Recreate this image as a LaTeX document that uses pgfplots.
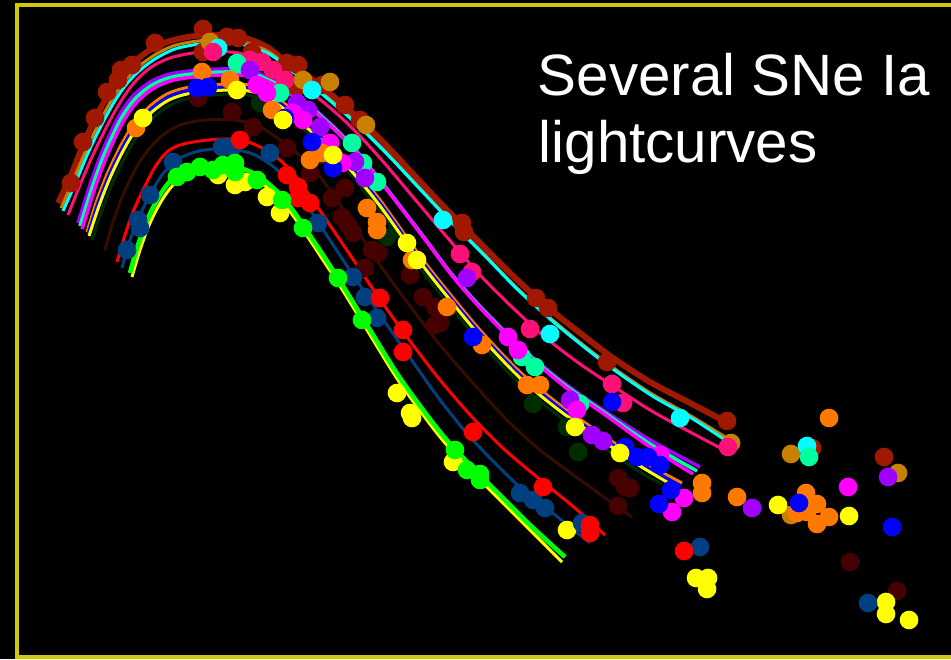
\documentclass[border=0pt]{standalone}
\usepackage{pgfplots}
\pgfplotsset{compat=1.18}
\usepackage{fontspec}
\setmainfont{Liberation Sans}

\definecolor{frameyellow}{RGB}{210,200,10}
\definecolor{cDarkRed}{RGB}{160,24,0}
\definecolor{cGold}{RGB}{200,128,0}
\definecolor{cCyan}{RGB}{0,255,255}
\definecolor{cPink}{RGB}{255,16,120}
\definecolor{cPurple}{RGB}{160,0,255}
\definecolor{cAqua}{RGB}{0,255,160}
\definecolor{cMagenta}{RGB}{255,0,255}
\definecolor{cOrange}{RGB}{255,120,0}
\definecolor{cBlue}{RGB}{0,0,255}
\definecolor{cYellow}{RGB}{255,255,0}
\definecolor{cDkGreen}{RGB}{0,45,0}
\definecolor{cMaroon}{RGB}{70,0,0}
\definecolor{cDim}{RGB}{55,12,0}
\definecolor{cRed}{RGB}{255,0,0}
\definecolor{cNavy}{RGB}{0,64,128}
\definecolor{cGreen}{RGB}{0,255,0}

\pgfplotsset{
  fit/.style={smooth, no marks, line width=0.85pt},
  obs/.style={only marks, mark=*, mark size=2.45pt, mark options={draw=none}},
}

\begin{document}
\begin{tikzpicture}
\fill[black] (0,0) rectangle (9.51cm,6.59cm);
\useasboundingbox (0,0) rectangle (9.51cm,6.59cm);
\begin{axis}[at={(0,0)}, anchor=south west, scale only axis,
  width=9.51cm, height=6.59cm,
  xmin=0, xmax=951, ymin=0, ymax=659, y dir=reverse,
  hide axis, clip=true]

% plot frame
\addplot[frameyellow, line width=0.9pt, no marks] coordinates {(965,5) (17,5) (17,657) (965,657)};

% ---- template fits ----
\addplot[fit, cDarkRed, line width=1.7pt] coordinates {
(58,203) (70,178) (83,145) (95,119) (108,95) (120,77) (133,63) (150,50) (170,41) (195,36) (222,35) (245,38) (267,47) (285,61) (313,80) (347,108) (380,139) (413,174) (446,209) (480,243) (513,276) (546,306) (580,333) (613,358) (650,382) (690,403) (728,423)};
\addplot[fit, cGold] coordinates {
(61,208) (73,181) (86,150) (98,125) (111,101) (123,83) (136,69) (153,56) (173,46) (198,41) (224,40) (247,43) (269,52) (287,66) (315,87) (349,116) (382,148) (415,183) (448,218) (482,252) (515,286) (548,316) (582,344) (615,369) (652,394) (691,416) (730,440)};
\addplot[fit, cCyan] coordinates {
(63,211) (75,184) (88,153) (100,128) (113,104) (125,86) (138,72) (155,59) (175,49) (200,44) (226,43) (249,46) (271,55) (289,69) (317,90) (351,119) (384,151) (417,186) (450,221) (484,255) (517,289) (550,319) (584,347) (617,372) (654,397) (693,419) (728,442)};
\addplot[fit, cPink] coordinates {
(68,215) (80,185) (92,157) (105,130) (118,106) (133,84) (150,68) (170,58) (200,52) (230,52) (255,57) (280,72) (313,94) (347,123) (380,158) (413,197) (446,236) (480,275) (513,308) (546,338) (580,364) (613,386) (650,410) (690,432) (728,452)};
\addplot[fit, cPurple, line width=1pt] coordinates {
(78,223) (90,185) (100,157) (110,134) (120,114) (133,96) (150,82) (170,74) (200,70) (230,69) (252,71) (280,84) (313,108) (347,140) (380,180) (420,232) (450,272) (480,306) (520,346) (560,380) (600,408) (650,440) (700,467)};
\addplot[fit, cAqua, line width=1pt] coordinates {
(80,226) (92,188) (102,160) (112,137) (122,117) (135,99) (152,85) (172,77) (202,73) (232,72) (254,74) (282,87) (315,111) (349,143) (382,183) (422,235) (452,275) (482,309) (522,349) (562,383) (602,411) (650,444) (697,471)};
\addplot[fit, cMagenta, line width=1pt] coordinates {
(82,229) (94,191) (104,163) (114,140) (124,120) (137,102) (154,88) (174,80) (204,76) (234,75) (256,77) (284,90) (317,114) (351,146) (384,186) (424,238) (454,278) (484,312) (524,352) (564,386) (604,414) (650,447) (693,474)};
\addplot[fit, cDkGreen] coordinates {
(92,240) (102,210) (113,182) (125,157) (138,135) (155,116) (172,104) (190,98) (212,95) (240,94) (260,98) (280,110) (313,137) (347,170) (380,212) (420,268) (450,306) (480,342) (520,384) (560,417) (600,445) (640,472) (662,484)};
\addplot[fit, cOrange] coordinates {
(87,232) (97,200) (108,172) (120,147) (133,125) (150,106) (167,94) (185,88) (210,85) (240,84) (260,88) (280,100) (313,127) (347,160) (380,200) (420,256) (450,294) (480,330) (520,372) (560,405) (600,433) (640,460) (682,483)};
\addplot[fit, cBlue] coordinates {
(88,234) (98,203) (109,175) (121,150) (134,128) (151,109) (168,97) (186,91) (210,88) (240,87) (260,91) (280,103) (313,130) (347,163) (380,203) (420,259) (450,297) (480,333) (520,375) (560,408) (600,436) (640,463) (681,486)};
\addplot[fit, cYellow] coordinates {
(89,236) (99,206) (110,178) (122,153) (135,131) (152,112) (169,100) (187,94) (210,91) (240,90) (260,94) (280,106) (313,133) (347,166) (380,206) (420,262) (450,300) (480,336) (520,378) (560,411) (600,439) (640,466) (679,489)};
\addplot[fit, cDim] coordinates {
(105,250) (113,222) (123,195) (135,170) (148,150) (163,135) (180,125) (205,120) (235,120) (258,126) (280,140) (313,168) (347,215) (380,265) (410,306) (440,345) (473,383) (505,418) (540,450) (590,487) (632,517)};
\addplot[fit, cRed] coordinates {
(117,262) (125,235) (133,212) (143,190) (155,167) (167,152) (180,145) (200,141) (225,139) (245,141) (262,148) (280,160) (300,182) (340,240) (377,295) (407,337) (440,380) (473,418) (505,450) (543,482) (575,508) (605,535)};
\addplot[fit, cNavy] coordinates {
(122,268) (130,240) (140,215) (150,195) (162,175) (177,160) (195,152) (215,149) (237,150) (255,155) (275,168) (295,188) (318,222) (353,275) (385,322) (413,362) (440,400) (470,437) (500,468) (523,490) (545,507) (570,527) (590,543)};
\addplot[fit, cYellow] coordinates {
(132,277) (140,250) (150,223) (162,200) (175,183) (190,175) (202,172) (220,171) (237,172) (255,179) (270,190) (285,205) (303,230) (338,283) (367,330) (400,383) (440,437) (470,470) (500,500) (530,530) (562,562)};
\addplot[fit, cGreen, line width=1.3pt] coordinates {
(130,273) (138,245) (148,218) (160,195) (173,178) (188,170) (200,167) (220,166) (237,167) (255,174) (270,185) (285,200) (303,225) (338,278) (367,325) (400,378) (440,432) (470,465) (500,495) (530,525) (565,557)};

% ---- photometry ----
\addplot[obs, cMaroon] coordinates {
(198,98) (232,112) (253,127) (287,148) (310,173) (332,198) (345,188) (342,217) (348,225) (353,233) (372,250) (378,253) (365,268) (410,275) (423,297) (435,307) (435,325) (440,323) (618,478) (630,488) (625,487) (618,506) (850,562) (897,591)};
\addplot[obs, cDkGreen] coordinates {
(260,103) (323,155) (387,237) (533,404) (567,427) (578,452)};
\addplot[obs, cDarkRed] coordinates {
(71,183) (83,142) (95,118) (107,92) (118,80) (121,70) (132,65) (155,43) (203,29) (203,52) (227,37) (238,38) (252,52) (287,63) (298,65) (297,87) (322,85) (345,105) (360,120) (462,223) (464,232) (536,298) (548,308) (607,362) (727,421) (812,448) (884,457)};
\addplot[obs, cGold] coordinates {
(210,42) (303,80) (330,82) (366,125) (731,443) (791,454) (791,515) (898,473)};
\addplot[obs, cCyan] coordinates {
(218,48) (312,90) (443,220) (550,334) (680,418) (807,446)};
\addplot[obs, cPink] coordinates {
(213,52) (250,60) (262,62) (273,70) (285,80) (460,254) (472,272) (530,329) (612,384) (623,403) (728,447)};
\addplot[obs, cAqua] coordinates {
(237,63) (280,93) (352,143) (363,163) (377,182) (522,357) (535,367) (580,404) (809,457)};
\addplot[obs, cPurple] coordinates {
(250,70) (297,103) (308,110) (320,127) (355,162) (365,178) (467,278) (570,400) (592,435) (603,441) (752,508) (888,477)};
\addplot[obs, cMagenta] coordinates {
(257,85) (267,93) (293,113) (303,120) (330,143) (342,163) (508,337) (518,350) (577,410) (660,455) (684,498) (672,512) (848,487)};
\addplot[obs, cOrange] coordinates {
(136,128) (202,72) (230,80) (272,110) (310,160) (322,153) (367,208) (377,222) (377,230) (412,260) (447,307) (482,345) (527,385) (540,385) (702,483) (702,493) (737,497) (806,493) (817,504) (807,512) (797,513) (829,517) (817,524) (829,418)};
\addplot[obs, cBlue] coordinates {
(197,88) (208,87) (285,118) (312,142) (333,168) (473,337) (612,402) (625,447) (637,457) (648,457) (660,465) (671,490) (659,504) (799,503) (892,527)};
\addplot[obs, cYellow] coordinates {
(143,118) (237,90) (283,120) (333,155) (407,243) (417,260) (575,427) (620,453) (218,175) (235,185) (245,182) (267,197) (280,213) (397,393) (410,413) (412,418) (453,462) (567,530) (696,578) (708,578) (707,589) (849,516) (778,505) (886,602) (886,614) (909,620)};
\addplot[obs, cNavy] coordinates {
(127,250) (138,220) (140,228) (150,195) (173,162) (222,147) (232,147) (270,153) (318,223) (353,277) (365,297) (377,318) (520,493) (533,500) (545,508) (582,523) (700,547) (868,603)};
\addplot[obs, cRed] coordinates {
(240,140) (287,175) (298,187) (298,198) (310,203) (380,298) (403,330) (403,352) (473,432) (543,487) (590,525) (590,533) (684,551)};
\addplot[obs, cGreen] coordinates {
(177,177) (187,172) (200,167) (213,170) (223,165) (235,163) (235,172) (257,180) (282,200) (303,228) (338,278) (362,320) (455,450) (467,470) (480,474) (480,480)};

% title
\node[anchor=base west, inner sep=0pt, text=white, font=\fontsize{16.6}{20}\selectfont] at (axis cs:537,96) {Several SNe Ia};
\node[anchor=base west, inner sep=0pt, text=white, font=\fontsize{16.6}{20}\selectfont] at (axis cs:538,163) {lightcurves};
\end{axis}
\end{tikzpicture}
\end{document}
